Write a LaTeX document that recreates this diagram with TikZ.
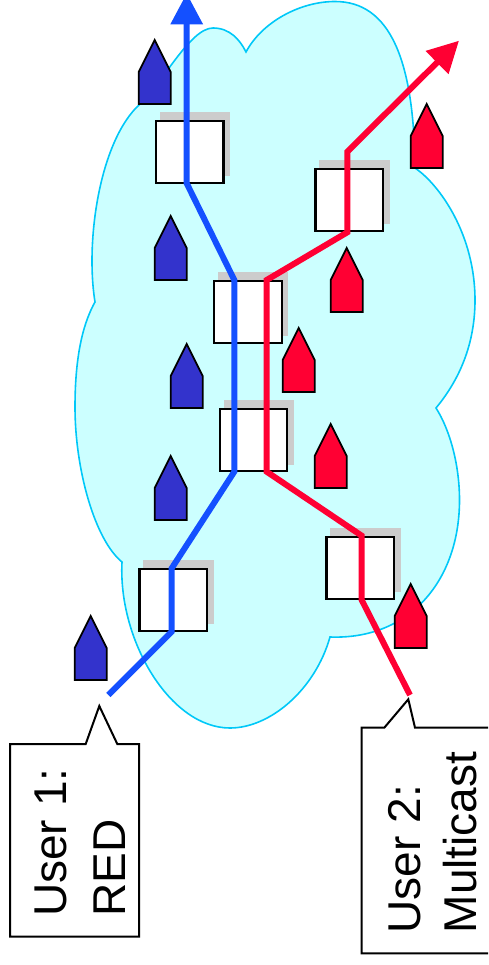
\documentclass[tikz,border=0pt]{standalone}
\usepackage{fontspec}
\setmainfont{Liberation Sans}
\usetikzlibrary{arrows.meta,shadows}
\definecolor{cloudfill}{HTML}{CCFFFF}
\definecolor{cloudline}{HTML}{00C8F8}
\definecolor{pathblue}{HTML}{1450FF}
\definecolor{pathred}{HTML}{FF0033}
\definecolor{houseblue}{HTML}{3333CC}
\definecolor{housered}{HTML}{FF0033}
\definecolor{shadowgray}{HTML}{CCCCCC}
\tikzset{
  cloudstyle/.style={draw=cloudline, fill=cloudfill, line width=1.6pt},
  router/.style={draw=black, line width=2.2pt, fill=white, minimum width=67.5pt,
    minimum height=62pt, inner sep=0pt,
    drop shadow={shadow xshift=5pt, shadow yshift=7.7pt, shadow scale=1.04, fill=shadowgray, opacity=1}},
  flowline/.style={line width=6pt},
  flowhead/.style={-{Triangle[length=31pt,width=31pt]}},
  housestyle/.style={draw=black, line width=1.8pt},
  pics/house/.style={code={\draw[housestyle, fill=#1] (-16,64) -- (16,64) -- (16,32) -- (0,0) -- (-16,32) -- cycle;}},
  callout/.style={draw=black, fill=white, line width=2pt, line join=miter},
  lbl/.style={anchor=base west, rotate=90, inner sep=0pt, font=\fontsize{46pt}{56pt}\selectfont}
}
\begin{document}
\begin{tikzpicture}[x=1pt, y=-1pt]
\useasboundingbox (0,0) rectangle (488,965);
\clip (0,0) rectangle (488,965);
% cloud
\draw[cloudstyle] (246,52) .. controls (262,22) and (300,1.5) .. (335,1.5)
  .. controls (390,1.5) and (414,60) .. (415,168)
  .. controls (440,185) and (475,235) .. (475,300)
  .. controls (475,350) and (455,385) .. (436,408)
  .. controls (450,430) and (459.5,465) .. (459.5,500)
  .. controls (459.5,580) and (410,640) .. (330,637)
  .. controls (315,690) and (270,728) .. (230,728)
  .. controls (170,728) and (118,640) .. (122,562)
  .. controls (95,540) and (75,470) .. (75,407)
  .. controls (75,350) and (85,320) .. (95,302)
  .. controls (85,240) and (100,140) .. (140,104)
  .. controls (162,84) and (190,28) .. (213,28)
  .. controls (230,28) and (240,40) .. (246,52) -- cycle;
% routers
\node[router] (rt1) at (189.7,152) {};
\node[router] (rt2) at (349.2,200) {};
\node[router] (rt3) at (248,312) {};
\node[router] (rt4) at (253.5,440.3) {};
\node[router] (rt5) at (173.3,600) {};
\node[router] (rt6) at (360.2,568) {};
% houses
\pic at (154.7,40) {house=houseblue};
\pic at (170.7,216) {house=houseblue};
\pic at (186.7,344) {house=houseblue};
\pic at (170.7,456) {house=houseblue};
\pic at (90.7,616) {house=houseblue};
\pic at (426.7,104) {house=housered};
\pic at (346.7,248) {house=housered};
\pic at (298.7,328) {house=housered};
\pic at (330.7,424) {house=housered};
\pic at (410.7,584) {house=housered};
% blue flow
\coordinate (b0) at (108.3,695);
\coordinate (b1) at (171.7,631.7);
\coordinate (b2) at (171.7,568.3);
\coordinate (b3) at (234.3,471.7);
\coordinate (b4) at (234.3,280);
\coordinate (b5) at (186.7,183.3);
\coordinate (b6) at (186.7,-6.7);
\draw[flowline, pathblue, flowhead] (b0) -- (b1) -- (b2) -- (b3) -- (b4) -- (b5) -- (b6);
% red flow
\coordinate (r0) at (410,695);
\coordinate (r1) at (361.7,600);
\coordinate (r2) at (361.7,535.7);
\coordinate (r3) at (266.7,471.7);
\coordinate (r4) at (266.7,280);
\coordinate (r5) at (347.3,232.3);
\coordinate (r6) at (347.3,151.7);
\coordinate (r7) at (459,40.7);
\draw[flowline, pathred, flowhead] (r0) -- (r1) -- (r2) -- (r3) -- (r4) -- (r5) -- (r6) -- (r7);
% callouts
\draw[callout] (10,744) -- (85.7,744) -- (99.3,706) -- (117.3,744) -- (139,744) -- (139,936.7) -- (10,936.7) -- cycle;
\node[lbl] (u1a) at (66.7,917) {User 1:};
\node[lbl] (u1b) at (125,917) {RED};
\draw[callout] (361.7,727.7) -- (384.3,727.7) -- (408.3,699.3) -- (415,727.7) -- (500,727.7) -- (500,953.3) -- (361.7,953.3) -- cycle;
\node[lbl] (u2a) at (420,933.5) {User 2:};
\node[lbl] (u2b) at (476.7,933.5) {Multicast};
\end{tikzpicture}
\end{document}
